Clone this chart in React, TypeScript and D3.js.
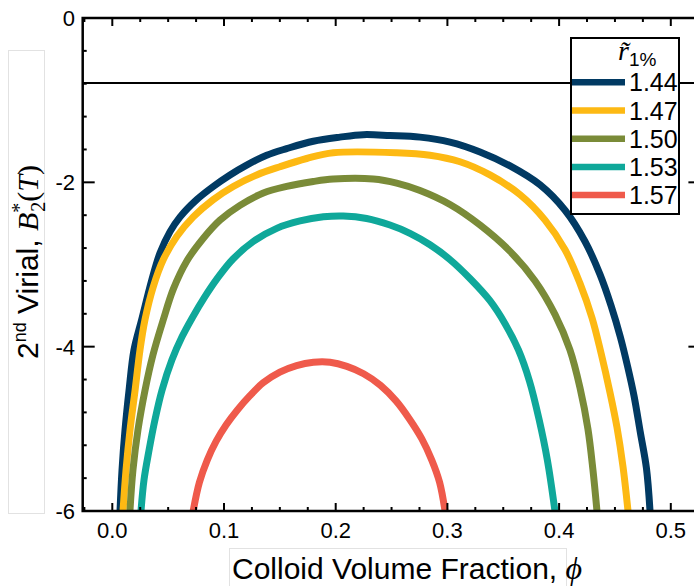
import React from "react";
import * as d3 from "d3";

const W = 694;
const H = 586;

const legendLabels = ["1.44", "1.47", "1.50", "1.53", "1.57"];
const colors = ["#013a63", "#fdb913", "#7a8b38", "#0fa89a", "#ef5a4b"];
const xTickLabels = ["0.0", "0.1", "0.2", "0.3", "0.4", "0.5"];
const xTicks = [0, 0.1, 0.2, 0.3, 0.4, 0.5];
const yTicks = [0, -2, -4, -6];
const yTickLabels = ["0", "-2", "-4", "-6"];
const refLine = -0.79;

const curve144: [number, number][] = [
  [0.0069, -6.0], [0.0087, -5.5], [0.0114, -5.01], [0.015, -4.53], [0.0194, -4.04],
  [0.0263, -3.67], [0.0353, -3.19], [0.0427, -2.86], [0.0517, -2.6], [0.0607, -2.42],
  [0.0756, -2.21], [0.0904, -2.05], [0.1054, -1.91], [0.1203, -1.79], [0.1382, -1.67],
  [0.1561, -1.59], [0.1799, -1.5], [0.2038, -1.45], [0.2247, -1.42], [0.2486, -1.43],
  [0.2755, -1.45], [0.3023, -1.51], [0.3292, -1.63], [0.3561, -1.8], [0.3829, -2.03],
  [0.4053, -2.34], [0.4232, -2.72], [0.4366, -3.12], [0.4465, -3.5], [0.4548, -3.88],
  [0.4615, -4.25], [0.4671, -4.6], [0.4728, -5.05], [0.4782, -5.48], [0.4814, -6.0],
];
const curve147: [number, number][] = [
  [0.0096, -6.0], [0.0123, -5.5], [0.0159, -5.01], [0.0204, -4.53], [0.0248, -4.04],
  [0.0293, -3.67], [0.0367, -3.27], [0.0457, -2.94], [0.0577, -2.66], [0.0725, -2.42],
  [0.0904, -2.21], [0.1083, -2.05], [0.1293, -1.91], [0.1501, -1.81], [0.174, -1.71],
  [0.1978, -1.64], [0.2546, -1.64], [0.2844, -1.67], [0.3113, -1.75], [0.3381, -1.91],
  [0.365, -2.15], [0.3874, -2.46], [0.4053, -2.82], [0.4187, -3.23], [0.4295, -3.65],
  [0.4376, -4.08], [0.4456, -4.56], [0.4518, -4.98], [0.4572, -5.46], [0.4617, -6.0],
];
const curve150: [number, number][] = [
  [0.0158, -6.0], [0.0185, -5.5], [0.023, -5.01], [0.0293, -4.53], [0.0364, -4.1],
  [0.0457, -3.67], [0.0546, -3.3], [0.0666, -2.96], [0.0815, -2.68], [0.0964, -2.46],
  [0.1143, -2.28], [0.1352, -2.13], [0.1561, -2.05], [0.1799, -1.99], [0.1978, -1.96],
  [0.2337, -1.96], [0.2546, -2.01], [0.2755, -2.1], [0.3023, -2.27], [0.3292, -2.52],
  [0.3561, -2.84], [0.3785, -3.2], [0.3964, -3.61], [0.4097, -4.04], [0.4187, -4.5],
  [0.4258, -5.0], [0.4303, -5.5], [0.4339, -6.0],
];
const curve153: [number, number][] = [
  [0.0257, -6.0], [0.0284, -5.62], [0.0329, -5.26], [0.0382, -4.89], [0.0445, -4.53],
  [0.0534, -4.16], [0.0624, -3.88], [0.0715, -3.65], [0.0825, -3.4], [0.0945, -3.16],
  [0.1083, -2.93], [0.1262, -2.72], [0.1472, -2.56], [0.168, -2.47], [0.1889, -2.42],
  [0.2068, -2.41], [0.2277, -2.44], [0.2486, -2.52], [0.2665, -2.62], [0.2844, -2.76],
  [0.3023, -2.94], [0.3202, -3.17], [0.3381, -3.44], [0.3516, -3.72], [0.3636, -4.04],
  [0.3735, -4.42], [0.382, -4.88], [0.3895, -5.38], [0.3963, -6.0],
];
const curve157: [number, number][] = [
  [0.0724, -6.0], [0.078, -5.65], [0.085, -5.38], [0.093, -5.15], [0.102, -4.95],
  [0.112, -4.77], [0.123, -4.6], [0.135, -4.44], [0.15, -4.31], [0.165, -4.23],
  [0.18, -4.19], [0.195, -4.19], [0.21, -4.24], [0.225, -4.33], [0.24, -4.47],
  [0.254, -4.66], [0.266, -4.88], [0.277, -5.12], [0.286, -5.38], [0.293, -5.65],
  [0.2979, -6.0],
];
const curves = [curve144, curve147, curve150, curve153, curve157];

const x = d3.scaleLinear().domain([-0.0265, 0.5265]).range([82.7, 700.4]);
const y = d3.scaleLinear().domain([-6, 0]).range([511, 18]);

const line = d3
  .line<[number, number]>()
  .x((d) => x(d[0]))
  .y((d) => y(d[1]))
  .curve(d3.curveCatmullRom.alpha(0.5));

const sans = "'Liberation Sans', Arial, sans-serif";
const serif = "'Liberation Serif', 'DejaVu Serif', serif";

export default function App() {
  const [x0, x1] = x.range();
  const [y0, y1] = [y(0), y(-6)];
  const minorX = d3.range(-1, 22).map((i) => i * 0.025).filter((v) => !xTicks.some((t) => Math.abs(t - v) < 1e-6));
  const minorY = d3.range(0, 16).map((i) => -i * 0.4).filter((v) => !yTicks.some((t) => Math.abs(t - v) < 1e-6));
  const legX = 571;
  const legY = 38;
  const legRowY = (i: number) => 82.3 + i * 28.2;
  return (
    <svg
      width={W}
      height={H}
      style={{ position: "absolute", left: 0, top: 0, background: "#fff" }}
      fontFamily={sans}
    >
      <defs>
        <clipPath id="plotClip">
          <rect x={x0} y={y0} width={x1 - x0} height={y1 - y0} />
        </clipPath>
      </defs>
      <rect x={0} y={0} width={W} height={H} fill="#fff" />

      {/* reference line */}
      <line x1={x0} x2={x1} y1={y(refLine)} y2={y(refLine)} stroke="#000" strokeWidth={2} />

      {/* curves */}
      <g clipPath="url(#plotClip)">
        {curves.map((c, i) => (
          <path
            key={i}
            d={line(c) || ""}
            fill="none"
            stroke={colors[i]}
            strokeWidth={7}
            strokeLinejoin="round"
            strokeLinecap="butt"
          />
        ))}
      </g>

      {/* ticks */}
      <g stroke="#000" strokeWidth={2}>
        {xTicks.map((t) => (
          <g key={"xt" + t}>
            <line x1={x(t)} x2={x(t)} y1={y1} y2={y1 - 8} />
            <line x1={x(t)} x2={x(t)} y1={y0} y2={y0 + 8} />
          </g>
        ))}
        {minorX.map((t) => (
          <g key={"xm" + t}>
            <line x1={x(t)} x2={x(t)} y1={y1} y2={y1 - 4} />
            <line x1={x(t)} x2={x(t)} y1={y0} y2={y0 + 4} />
          </g>
        ))}
        {yTicks.map((t) => (
          <g key={"yt" + t}>
            <line x1={x0} x2={x0 + 12} y1={y(t)} y2={y(t)} />
            <line x1={x1} x2={x1 - 12} y1={y(t)} y2={y(t)} />
          </g>
        ))}
        {minorY.map((t) => (
          <g key={"ym" + t}>
            <line x1={x0} x2={x0 + 4} y1={y(t)} y2={y(t)} />
            <line x1={x1} x2={x1 - 4} y1={y(t)} y2={y(t)} />
          </g>
        ))}
      </g>

      {/* frame */}
      <rect x={x0} y={y0} width={x1 - x0} height={y1 - y0} fill="none" stroke="#000" strokeWidth={2.5} />

      {/* tick labels */}
      {xTicks.map((t, i) => (
        <text key={"xl" + t} x={x(t)} y={538} textAnchor="middle" fontSize={22} fill="#000">
          {xTickLabels[i]}
        </text>
      ))}
      {yTicks.map((t, i) => (
        <text key={"yl" + t} x={75} y={y(t) + 8} textAnchor="end" fontSize={22} fill="#000">
          {yTickLabels[i]}
        </text>
      ))}

      {/* legend */}
      <rect x={legX} y={legY} width={108} height={176} fill="#fff" stroke="#000" strokeWidth={2} />
      <text x={618} y={60} fontSize={28} fill="#000">
        <tspan fontFamily={serif} fontStyle="italic">r̃</tspan>
        <tspan fontSize={19} dy={6}>1%</tspan>
      </text>
      {legendLabels.map((lab, i) => (
        <g key={lab}>
          <line x1={legX + 1} x2={625} y1={legRowY(i)} y2={legRowY(i)} stroke={colors[i]} strokeWidth={6.5} />
          <text x={629} y={legRowY(i) + 9} fontSize={25} fill="#000">
            {lab}
          </text>
        </g>
      ))}

      {/* y-axis title */}
      <rect x={8.5} y={50.5} width={36} height={463} fill="none" stroke="#e2e2e2" strokeWidth={1} />
      <text transform="translate(38,262) rotate(-90)" textAnchor="middle" fontSize={30} fill="#000">
        <tspan>2</tspan>
        <tspan fontSize={18} dy={-12}>nd</tspan>
        <tspan dy={12}> Virial, </tspan>
        <tspan fontFamily={serif} fontStyle="italic">B</tspan>
        <tspan fontFamily={serif} fontSize={20} dy={-12}>*</tspan>
        <tspan fontFamily={serif} fontSize={20} dx={-9} dy={19}>2</tspan>
        <tspan fontFamily={serif} dy={-7}>(</tspan>
        <tspan fontFamily={serif} fontStyle="italic">T</tspan>
        <tspan fontFamily={serif}>)</tspan>
      </text>

      {/* x-axis title */}
      <rect x={229.5} y={548.5} width={337} height={40} fill="none" stroke="#e2e2e2" strokeWidth={1} />
      <text x={232} y={579} fontSize={30} fill="#000">
        Colloid Volume Fraction,{" "}
        <tspan fontFamily={serif} fontStyle="italic" fontSize={32}>ϕ</tspan>
      </text>
    </svg>
  );
}
